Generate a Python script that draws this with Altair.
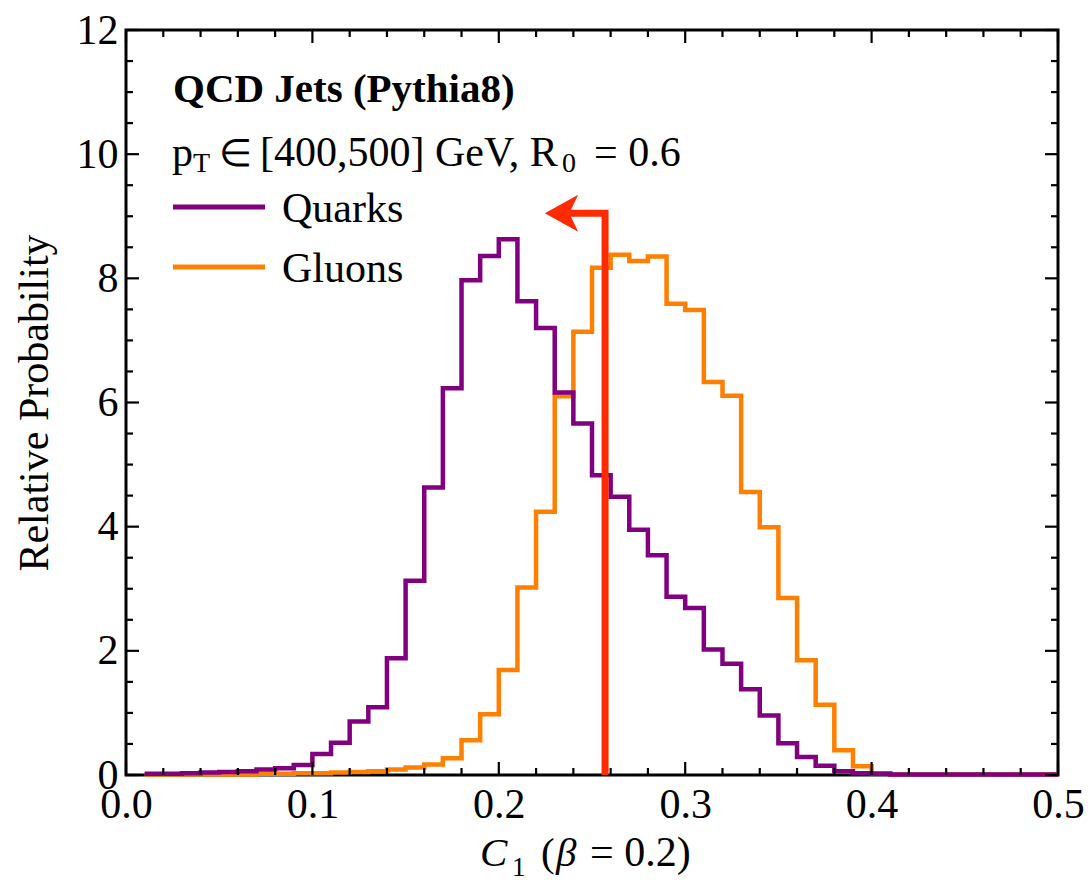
import altair as alt
import pandas as pd

# ---------------- data ----------------
bin_edges = [0.01, 0.02, 0.03, 0.04, 0.05, 0.06, 0.07, 0.08, 0.09, 0.10,
             0.11, 0.12, 0.13, 0.14, 0.15, 0.16, 0.17, 0.18, 0.19, 0.20,
             0.21, 0.22, 0.23, 0.24, 0.25, 0.26, 0.27, 0.28, 0.29, 0.30,
             0.31, 0.32, 0.33, 0.34, 0.35, 0.36, 0.37, 0.38, 0.39, 0.40,
             0.41, 0.42, 0.43, 0.44, 0.45, 0.46, 0.47, 0.48, 0.49, 0.50]

quarks = [0.02, 0.02, 0.03, 0.04, 0.05, 0.06, 0.09, 0.11, 0.16, 0.34,
          0.52, 0.86, 1.09, 1.88, 3.13, 4.63, 6.23, 7.97, 8.36, 8.63,
          7.63, 7.20, 6.16, 5.66, 4.83, 4.48, 3.95, 3.54, 2.87, 2.69,
          2.02, 1.79, 1.38, 0.96, 0.51, 0.29, 0.15, 0.06, 0.03, 0.02,
          0.01, 0.01, 0.01, 0.01, 0.01, 0.01, 0.01, 0.01, 0.01]

gluons = [0.01, 0.01, 0.01, 0.01, 0.01, 0.01, 0.02, 0.02, 0.03, 0.03,
          0.04, 0.05, 0.06, 0.09, 0.12, 0.17, 0.27, 0.56, 0.98, 1.69,
          3.02, 4.24, 6.10, 7.14, 8.17, 8.38, 8.28, 8.35, 7.59, 7.49,
          6.33, 6.11, 4.56, 3.99, 2.85, 1.85, 1.13, 0.40, 0.14, 0.03,
          0.01, 0.01, 0.01, 0.01, 0.01, 0.01, 0.01, 0.01, 0.01]

x_major = [0.0, 0.1, 0.2, 0.3, 0.4, 0.5]
x_minor = [0.02, 0.04, 0.06, 0.08, 0.12, 0.14, 0.16, 0.18, 0.22, 0.24, 0.26, 0.28,
           0.32, 0.34, 0.36, 0.38, 0.42, 0.44, 0.46, 0.48]
y_major = [0, 2, 4, 6, 8, 10, 12]
y_minor = [0.5, 1, 1.5, 2.5, 3, 3.5, 4.5, 5, 5.5, 6.5, 7, 7.5,
           8.5, 9, 9.5, 10.5, 11, 11.5]

arrow_x = 0.257       # C1 cut value
arrow_top = 9.05
arrow_tip = 0.2248

# ---------------- layout ----------------
W, H = 932, 745
L0, T0 = 126, 30
SERIF = "'Liberation Serif', 'Times New Roman', Times, serif"
PURPLE = "#800080"
ORANGE = "#FF8000"
RED = "#FF2A00"

def steps(vals):
    rows = [{"x": e, "y": v} for e, v in zip(bin_edges[:-1], vals)]
    rows.append({"x": bin_edges[-1], "y": vals[-1]})
    return pd.DataFrame(rows)

xscale = alt.Scale(domain=[0, 0.5], nice=False, zero=False)
yscale = alt.Scale(domain=[0, 12], nice=False, zero=False)

xaxis = alt.Axis(values=x_major, format=".1f", title=None, ticks=False, domain=False, grid=False,
                 labelFont=SERIF, labelFontSize=42, labelColor="black", labelPadding=9,
                 labelFlush=False, labelOverlap=False, labelBound=False)
yaxis = alt.Axis(values=y_major, format="d", ticks=False, domain=False, grid=False,
                 labelFont=SERIF, labelFontSize=42, labelColor="black", labelPadding=8,
                 labelOverlap=False, labelBound=False,
                 title="Relative Probability", titleFont=SERIF, titleFontSize=42,
                 titleFontWeight="normal", titleColor="black", titleAngle=270,
                 titleBaseline="alphabetic", titleAlign="center", titleX=-79, titleY=H / 2)

gl = alt.Chart(steps(gluons)).mark_line(interpolate="step-after", color=ORANGE, strokeWidth=4.5).encode(
    x=alt.X("x:Q", scale=xscale, axis=xaxis),
    y=alt.Y("y:Q", scale=yscale, axis=yaxis),
)
qk = alt.Chart(steps(quarks)).mark_line(interpolate="step-after", color=PURPLE, strokeWidth=4.5).encode(
    x=alt.X("x:Q"), y=alt.Y("y:Q"),
)

# arrow
head_len_px = 33
head_center = arrow_tip + (head_len_px / 2) / W * 0.5
arrow_df = pd.DataFrame({"x": [arrow_x, arrow_x, head_center],
                         "y": [0, arrow_top, arrow_top],
                         "o": [0, 1, 2]})
arrow_line = alt.Chart(arrow_df).mark_line(color=RED, strokeWidth=7, strokeJoin="miter").encode(
    x="x:Q", y="y:Q", order="o:Q")
head = alt.Chart(pd.DataFrame({"x": [head_center], "y": [arrow_top]})).mark_point(
    shape="M -0.9 0 L 0.9 -1 L 0.42 0 L 0.9 1 Z", filled=True, size=1369,
    color=RED, opacity=1, strokeWidth=0).encode(x="x:Q", y="y:Q")

# frame ticks (inward, on all four sides)
def xticks(vals, length):
    d = pd.DataFrame({"v": vals})
    b = alt.Chart(d).mark_rule(color="black", strokeWidth=2.2).encode(
        x="v:Q", y=alt.value(H), y2=alt.value(H - length))
    t = alt.Chart(d).mark_rule(color="black", strokeWidth=2.2).encode(
        x="v:Q", y=alt.value(0), y2=alt.value(length))
    return [b, t]

def yticks(vals, length):
    d = pd.DataFrame({"v": vals})
    l = alt.Chart(d).mark_rule(color="black", strokeWidth=2.2).encode(
        y="v:Q", x=alt.value(0), x2=alt.value(length))
    r = alt.Chart(d).mark_rule(color="black", strokeWidth=2.2).encode(
        y="v:Q", x=alt.value(W), x2=alt.value(W - length))
    return [l, r]

tick_layers = xticks(x_major, 13) + xticks(x_minor, 7) + yticks(y_major, 13) + yticks(y_minor, 7)

# text annotations (positions given in page pixels, converted to plot-area pixels)
def txt(s, x, y, size, weight="normal", style="normal", color="black"):
    return alt.Chart(pd.DataFrame({"t": [s]})).mark_text(
        align="left", baseline="alphabetic", font=SERIF, fontSize=size,
        fontWeight=weight, fontStyle=style, color=color).encode(
        text="t:N", x=alt.value(x - L0), y=alt.value(y - T0))

texts = [
    txt("QCD Jets (Pythia8)", 173, 102, 41, weight="bold"),
    txt("p", 172, 166, 42),
    txt("T", 193, 172, 28),
    txt("∈", 219, 166, 38),
    txt("[400,500] GeV, R", 260, 166, 42),
    txt("0", 562, 172, 28),
    txt("= 0.6", 594, 166, 42),
    txt("Quarks", 282, 222, 42),
    txt("Gluons", 282, 282, 42),
    # x-axis title
    txt("C", 480, 866, 41, style="italic"),
    txt("1", 512, 876, 27),
    txt("(", 541, 866, 41),
    txt("β", 556, 866, 41, style="italic"),
    txt("= 0.2)", 590, 866, 42),
]

leg_q = alt.Chart(pd.DataFrame({"s": ["Quarks"]})).mark_rule(color=PURPLE, strokeWidth=5).encode(
    x=alt.value(173 - L0), x2=alt.value(265 - L0), y=alt.value(207 - T0))
leg_g = alt.Chart(pd.DataFrame({"s": ["Gluons"]})).mark_rule(color=ORANGE, strokeWidth=5).encode(
    x=alt.value(173 - L0), x2=alt.value(265 - L0), y=alt.value(267 - T0))

chart = alt.layer(gl, qk, arrow_line, head, *tick_layers, leg_q, leg_g, *texts).properties(
    width=W, height=H,
    autosize=alt.AutoSizeParams(type="none"),
    padding={"left": L0, "top": T0, "right": 30, "bottom": 113},
    background="white",
).configure_view(stroke="black", strokeWidth=3)

chart.save("out.html", embed_options={"renderer": "svg", "actions": False})
